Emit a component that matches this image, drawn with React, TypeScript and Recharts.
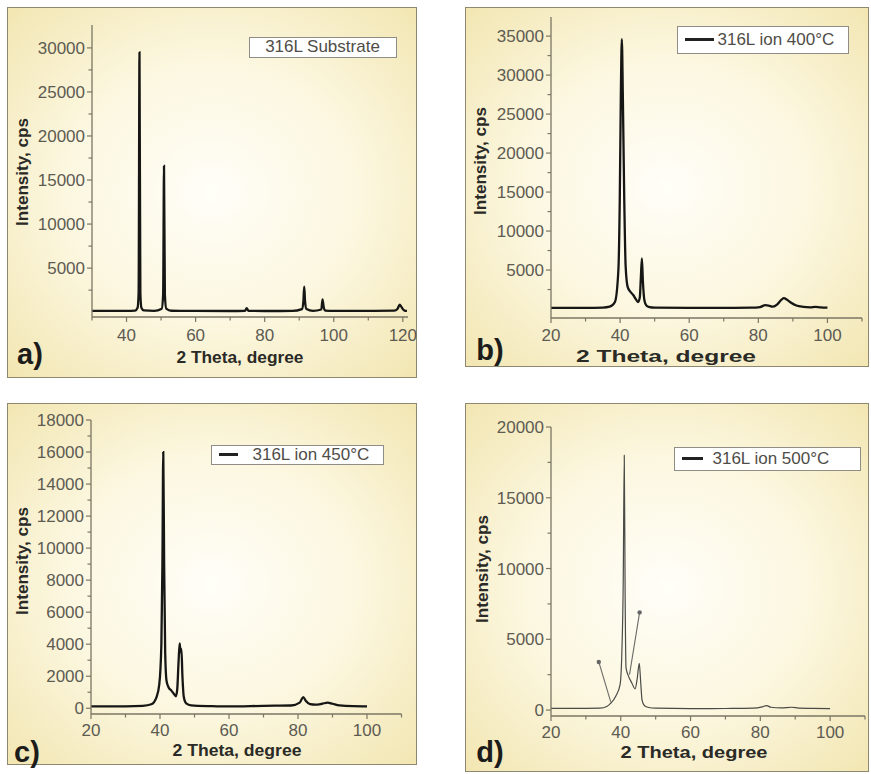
import React from 'react';
import { LineChart, Line, XAxis, YAxis, ReferenceLine, ReferenceDot, Legend } from 'recharts';

// ---------- Data ----------
const thetaA = [30, 35, 40, 42.5, 43.2, 43.5, 43.75, 44.0, 44.3, 45, 48, 50.2, 50.6, 50.85, 51.1, 51.5, 53, 60, 70, 74.3, 74.8, 75.3, 80, 88, 90.8, 91.2, 91.45, 91.7, 92.1, 94, 96.4, 96.75, 97.1, 97.5, 100, 110, 117.5, 118.5, 119.1, 119.5, 119.9, 120.5, 121.2];
const intensityA = [150, 150, 140, 180, 500, 2200, 29500, 2200, 500, 200, 150, 400, 2000, 16600, 2000, 400, 160, 140, 130, 150, 450, 150, 130, 140, 350, 1200, 2900, 1200, 350, 150, 300, 1450, 550, 180, 140, 150, 170, 400, 850, 650, 400, 180, 150];

const thetaB = [20, 30, 35, 37, 38.5, 39.5, 39.9, 40.2, 40.5, 40.8, 41.2, 41.6, 42.2, 43.0, 43.8, 44.5, 45.2, 45.7, 46.0, 46.3, 46.6, 47.0, 47.6, 48.5, 50, 60, 70, 78, 80.5, 82.0, 83.0, 84.2, 85.5, 86.7, 87.4, 88.3, 89.5, 91, 93, 95, 96.5, 98, 100];
const intensityB = [150, 150, 180, 300, 900, 5000, 14000, 27000, 34600, 27000, 14000, 5500, 2800, 2200, 1800, 1300, 900, 1500, 4000, 6500, 3500, 1200, 450, 250, 180, 150, 150, 170, 250, 500, 450, 300, 600, 1200, 1400, 1200, 800, 450, 280, 220, 280, 200, 170];

const thetaC = [20, 30, 35, 37.5, 39.0, 39.8, 40.4, 40.7, 40.95, 41.2, 41.5, 41.9, 42.5, 43.3, 44.0, 44.6, 45.0, 45.4, 45.7, 45.95, 46.2, 46.5, 46.9, 47.6, 49, 55, 60, 70, 78, 80.5, 81.5, 82.3, 83.5, 85, 87, 88.6, 90, 92, 96, 100];
const intensityC = [120, 120, 150, 250, 700, 1500, 4000, 9000, 16000, 9000, 3500, 1700, 1300, 1100, 900, 750, 1200, 3000, 4050, 3500, 3700, 2000, 700, 300, 180, 130, 110, 150, 170, 350, 700, 450, 250, 220, 280, 350, 280, 180, 130, 120];

const thetaD = [20, 30, 34, 36, 37, 38.6, 39.8, 40.3, 40.7, 41.0, 41.25, 41.5, 42.2, 43.2, 44.1, 44.7, 45.3, 45.7, 46.1, 46.8, 48, 50, 60, 70, 78, 80.5, 81.8, 83, 86, 89, 91, 95, 100];
const intensityD = [120, 120, 130, 250, 450, 1000, 1800, 4000, 9000, 18000, 8000, 3000, 2400, 1900, 1500, 2200, 3300, 2000, 700, 300, 180, 130, 100, 110, 130, 220, 320, 200, 150, 200, 140, 120, 100];

// pointer annotations drawn on panel d (data coordinates)
const pointerD1 = [{ x: 33.7, y: 3400 }, { x: 37.1, y: 600 }];
const pointerD2 = [{ x: 45.4, y: 6900 }, { x: 42.5, y: 2500 }];

const xTicksA = [30, 40, 50, 60, 70, 80, 90, 100, 110, 120];
const xLabelsA = [40, 60, 80, 100, 120];
const xTicksBCD = [20, 30, 40, 50, 60, 70, 80, 90, 100, 110];
const xLabelsBCD = [20, 40, 60, 80, 100];

const yTicksA = [2500, 5000, 7500, 10000, 12500, 15000, 17500, 20000, 22500, 25000, 27500, 30000];
const yLabelsA = [5000, 10000, 15000, 20000, 25000, 30000];
const yTicksB = [2500, 5000, 7500, 10000, 12500, 15000, 17500, 20000, 22500, 25000, 27500, 30000, 32500, 35000];
const yLabelsB = [5000, 10000, 15000, 20000, 25000, 30000, 35000];
const yTicksC = [0, 1000, 2000, 3000, 4000, 5000, 6000, 7000, 8000, 9000, 10000, 11000, 12000, 13000, 14000, 15000, 16000, 17000, 18000];
const yLabelsC = [0, 2000, 4000, 6000, 8000, 10000, 12000, 14000, 16000, 18000];
const yTicksD = [0, 2500, 5000, 7500, 10000, 12500, 15000, 17500, 20000];
const yLabelsD = [0, 5000, 10000, 15000, 20000];

const legendA = '316L Substrate';
const legendB = '316L ion 400°C';
const legendC = '316L ion 450°C';
const legendD = '316L ion 500°C';

const X_TITLE = '2 Theta, degree';
const Y_TITLE = 'Intensity, cps';

// ---------- Styles ----------
const FONT = '"Liberation Sans", Arial, sans-serif';
const AXIS = '#7b7664';
const TICK_TXT = '#5d5b52';
const TITLE_TXT = '#2a2a26';
const BG = 'radial-gradient(ellipse at 50% 50%, #fffef8 0%, #fcf7e0 50%, #f2e6b2 100%)';

const toRows = (xs: number[], ys: number[]) => xs.map((x, i) => ({ x, y: ys[i] }));

const makeXTick = (labels: number[], labelOffset: number) => (props: any) => {
  const { x, y, payload } = props;
  const v = payload.value;
  const major = labels.includes(v);
  return (
    <g>
      <line x1={x} x2={x} y1={y} y2={y + (major ? 5 : 3.5)} stroke={AXIS} strokeWidth={1.2} />
      {major && (
        <text x={x} y={y + labelOffset} textAnchor="middle" fontSize={17} fill={TICK_TXT} fontFamily={FONT}>
          {v}
        </text>
      )}
    </g>
  );
};

const makeYTick = (labels: number[]) => (props: any) => {
  const { x, y, payload } = props;
  const v = payload.value;
  const major = labels.includes(v);
  return (
    <g>
      <line x1={x - (major ? 5 : 3.5)} x2={x} y1={y} y2={y} stroke={AXIS} strokeWidth={1.2} />
      {major && (
        <text x={x - 7} y={y} dy="0.36em" textAnchor="end" fontSize={17} fill={TICK_TXT} fontFamily={FONT}>
          {v}
        </text>
      )}
    </g>
  );
};

type Box = { l: number; t: number; r: number; b: number };

interface PanelCfg {
  frame: Box;
  plot: Box;
  xDomain: [number, number];
  yDomain: [number, number];
  xTicks: number[];
  xLabels: number[];
  xLabelOffset: number;
  yTicks: number[];
  yLabels: number[];
  rows: { x: number; y: number }[];
  legend: string;
  legendBox: { l: number; t: number; w: number; h: number; lineW: number; gap: number };
  showSample: boolean;
  lineColor: string;
  lineWidth: number;
  pointers?: { x: number; y: number }[][];
}

function Panel({ cfg }: { cfg: PanelCfg }) {
  const { frame, plot } = cfg;
  const W = frame.r - frame.l;
  const H = frame.b - frame.t;
  const lb = cfg.legendBox;
  const legendContent = () => (
    <div
      style={{
        width: lb.w,
        height: lb.h,
        boxSizing: 'border-box',
        background: '#ffffff',
        border: '1px solid #8f8d86',
        display: 'flex',
        alignItems: 'center',
        justifyContent: cfg.showSample ? 'flex-start' : 'center',
        paddingLeft: cfg.showSample ? 7 : 0,
        fontFamily: FONT,
        fontSize: 17,
        color: '#4f4d47',
        whiteSpace: 'nowrap',
      }}
    >
      {cfg.showSample && (
        <span style={{ display: 'inline-block', width: lb.lineW, height: 2.5, background: '#222', marginRight: lb.gap }} />
      )}
      <span>{cfg.legend}</span>
    </div>
  );
  return (
    <div
      style={{
        position: 'absolute',
        left: frame.l,
        top: frame.t,
        width: W,
        height: H,
        boxSizing: 'border-box',
        border: '1.5px solid #8e8870',
        background: BG,
      }}
    >
      <div style={{ position: 'absolute', left: -1.5, top: -1.5 }}>
        <LineChart
          width={W}
          height={H}
          data={cfg.rows}
          margin={{ top: plot.t - frame.t, right: frame.r - plot.r, bottom: 0, left: 0 }}
        >
          <XAxis
            type="number"
            dataKey="x"
            domain={cfg.xDomain}
            ticks={cfg.xTicks}
            interval={0}
            tickSize={0}
            tickMargin={0}
            tick={makeXTick(cfg.xLabels, cfg.xLabelOffset)}
            height={frame.b - plot.b}
            axisLine={{ stroke: AXIS, strokeWidth: 1.3 }}
            allowDataOverflow
          />
          <YAxis
            type="number"
            domain={cfg.yDomain}
            ticks={cfg.yTicks}
            interval={0}
            tickSize={0}
            tickMargin={0}
            tick={makeYTick(cfg.yLabels)}
            width={plot.l - frame.l}
            axisLine={{ stroke: AXIS, strokeWidth: 1.3 }}
            allowDataOverflow
          />
          <Legend
            layout="vertical"
            align="center"
            verticalAlign="middle"
            wrapperStyle={{ position: 'absolute', left: lb.l - frame.l, top: lb.t - frame.t, width: lb.w, height: lb.h }}
            content={legendContent}
          />
          <Line
            type="monotone"
            dataKey="y"
            name={cfg.legend}
            stroke={cfg.lineColor}
            strokeWidth={cfg.lineWidth}
            dot={false}
            activeDot={false}
            isAnimationActive={false}
          />
          {(cfg.pointers || []).map((seg, i) => (
            <ReferenceLine key={'pl' + i} segment={seg} stroke="#6a6a66" strokeWidth={1.1} />
          ))}
          {(cfg.pointers || []).map((seg, i) => (
            <ReferenceDot key={'pd' + i} x={seg[0].x} y={seg[0].y} r={2.2} fill="#666" stroke="none" />
          ))}
        </LineChart>
      </div>
    </div>
  );
}

const panels: PanelCfg[] = [
  {
    frame: { l: 7, t: 7, r: 417, b: 378 },
    plot: { l: 92, t: 25, r: 408, b: 317 },
    xDomain: [30, 121.5],
    yDomain: [-550, 32600],
    xTicks: xTicksA,
    xLabels: xLabelsA,
    xLabelOffset: 24,
    yTicks: yTicksA,
    yLabels: yLabelsA,
    rows: toRows(thetaA, intensityA),
    legend: legendA,
    legendBox: { l: 249, t: 37, w: 148, h: 21, lineW: 0, gap: 0 },
    showSample: false,
    lineColor: '#161614',
    lineWidth: 2.3,
  },
  {
    frame: { l: 465, t: 7, r: 869, b: 367 },
    plot: { l: 551, t: 17, r: 862, b: 318 },
    xDomain: [20, 110],
    yDomain: [-1150, 37450],
    xTicks: xTicksBCD,
    xLabels: xLabelsBCD,
    xLabelOffset: 23,
    yTicks: yTicksB,
    yLabels: yLabelsB,
    rows: toRows(thetaB, intensityB),
    legend: legendB,
    legendBox: { l: 677, t: 26, w: 172, h: 28, lineW: 29, gap: 4 },
    showSample: true,
    lineColor: '#161614',
    lineWidth: 2.3,
  },
  {
    frame: { l: 7, t: 403, r: 417, b: 765 },
    plot: { l: 91, t: 420, r: 401.5, b: 714 },
    xDomain: [20, 110],
    yDomain: [-360, 18000],
    xTicks: xTicksBCD,
    xLabels: xLabelsBCD,
    xLabelOffset: 22,
    yTicks: yTicksC,
    yLabels: yLabelsC,
    rows: toRows(thetaC, intensityC),
    legend: legendC,
    legendBox: { l: 211, t: 445, w: 173, h: 20, lineW: 19, gap: 15 },
    showSample: true,
    lineColor: '#161614',
    lineWidth: 2.3,
  },
  {
    frame: { l: 465, t: 403, r: 869, b: 772 },
    plot: { l: 551, t: 427, r: 865, b: 716 },
    xDomain: [20, 110],
    yDomain: [-420, 20000],
    xTicks: xTicksBCD,
    xLabels: xLabelsBCD,
    xLabelOffset: 22,
    yTicks: yTicksD,
    yLabels: yLabelsD,
    rows: toRows(thetaD, intensityD),
    legend: legendD,
    legendBox: { l: 674, t: 447, w: 187, h: 24, lineW: 21, gap: 10 },
    showSample: true,
    lineColor: '#4a4a46',
    lineWidth: 1.2,
    pointers: [pointerD1, pointerD2],
  },
];

const xTitles = [
  { cx: 240, cy: 357, len: 127 },
  { cx: 666, cy: 356, len: 180 },
  { cx: 237, cy: 750, len: 129 },
  { cx: 694, cy: 752, len: 147 },
];
const yTitles = [
  { cx: 22, cy: 172 },
  { cx: 480, cy: 161 },
  { cx: 22, cy: 561 },
  { cx: 482, cy: 569 },
];
const letters = [
  { t: 'a)', cx: 30, cy: 354 },
  { t: 'b)', cx: 490, cy: 350 },
  { t: 'c)', cx: 27, cy: 752 },
  { t: 'd)', cx: 490, cy: 752 },
];

export default function App() {
  return (
    <div style={{ position: 'absolute', left: 0, top: 0, width: 871, height: 774, background: '#ffffff', overflow: 'hidden' }}>
      {panels.map((p, i) => (
        <Panel key={i} cfg={p} />
      ))}
      <svg width={871} height={774} style={{ position: 'absolute', left: 0, top: 0, pointerEvents: 'none' }}>
        {xTitles.map((t, i) => (
          <text
            key={'xt' + i}
            x={t.cx}
            y={t.cy}
            dy="0.35em"
            textAnchor="middle"
            fontFamily={FONT}
            fontWeight="bold"
            fontSize={17}
            fill={TITLE_TXT}
            textLength={t.len}
            lengthAdjust="spacingAndGlyphs"
          >
            {X_TITLE}
          </text>
        ))}
        {yTitles.map((t, i) => (
          <text
            key={'yt' + i}
            x={t.cx}
            y={t.cy}
            dy="0.35em"
            textAnchor="middle"
            transform={`rotate(-90 ${t.cx} ${t.cy})`}
            fontFamily={FONT}
            fontWeight="bold"
            fontSize={17}
            fill={TITLE_TXT}
            textLength={108}
            lengthAdjust="spacingAndGlyphs"
          >
            {Y_TITLE}
          </text>
        ))}
        {letters.map((t, i) => (
          <text
            key={'lt' + i}
            x={t.cx}
            y={t.cy}
            dy="0.36em"
            textAnchor="middle"
            fontFamily={FONT}
            fontWeight="bold"
            fontSize={29}
            fill="#1c1c1a"
          >
            {t.t}
          </text>
        ))}
      </svg>
    </div>
  );
}
